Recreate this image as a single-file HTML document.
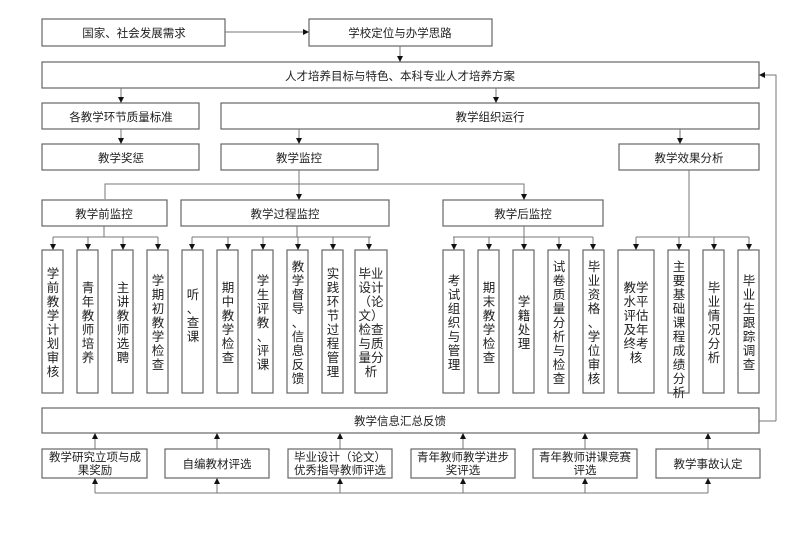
<!DOCTYPE html>
<html><head><meta charset="utf-8"><style>
html,body{margin:0;padding:0;background:#fff;}
svg{display:block}
text{font-family:"Liberation Sans","Noto Sans CJK SC",sans-serif;fill:#222;}
</style></head><body>
<svg width="799" height="559" viewBox="0 0 799 559" xmlns="http://www.w3.org/2000/svg">
<defs><marker id="a" markerWidth="6" markerHeight="6" refX="5" refY="3" orient="auto" markerUnits="userSpaceOnUse"><path d="M0,0 L6,3 L0,6z" fill="#111"/></marker></defs>
<g fill="#fff" stroke="#666" stroke-width="1.2">
<rect x="42" y="19" width="183" height="27"/>
<rect x="309" y="19" width="183" height="27"/>
<rect x="42" y="62" width="717" height="26"/>
<rect x="42" y="103" width="157" height="26"/>
<rect x="221" y="103" width="538" height="26"/>
<rect x="42" y="144" width="157" height="26"/>
<rect x="221" y="144" width="157" height="26"/>
<rect x="619" y="144" width="140" height="26"/>
<rect x="42" y="200" width="125" height="26"/>
<rect x="181" y="200" width="208" height="26"/>
<rect x="443" y="200" width="160" height="26"/>
<rect x="42" y="250" width="21" height="143"/>
<rect x="77" y="250" width="21" height="143"/>
<rect x="112" y="250" width="21" height="143"/>
<rect x="147" y="250" width="21" height="143"/>
<rect x="182" y="250" width="21" height="143"/>
<rect x="217" y="250" width="21" height="143"/>
<rect x="252" y="250" width="21" height="143"/>
<rect x="287" y="250" width="21" height="143"/>
<rect x="322" y="250" width="21" height="143"/>
<rect x="355" y="250" width="32" height="143"/>
<rect x="443" y="250" width="21" height="143"/>
<rect x="478" y="250" width="21" height="143"/>
<rect x="513" y="250" width="21" height="143"/>
<rect x="548" y="250" width="21" height="143"/>
<rect x="583" y="250" width="21" height="143"/>
<rect x="618" y="250" width="36" height="143"/>
<rect x="668" y="250" width="21" height="143"/>
<rect x="703" y="250" width="21" height="143"/>
<rect x="738" y="250" width="21" height="143"/>
<rect x="42" y="408" width="717" height="25"/>
<rect x="42" y="449" width="105" height="29"/>
<rect x="165" y="449" width="104" height="29"/>
<rect x="288" y="449" width="104" height="29"/>
<rect x="411" y="449" width="104" height="29"/>
<rect x="533" y="449" width="104" height="29"/>
<rect x="656" y="449" width="104" height="29"/>
</g>
<g stroke="#777" stroke-width="1" fill="none" marker-end="url(#a)">
<line x1="225" y1="32" x2="308" y2="32"/>
<line x1="400" y1="46" x2="400" y2="61"/>
<line x1="121" y1="88" x2="121" y2="102"/>
<line x1="496" y1="88" x2="496" y2="102"/>
<line x1="121" y1="129" x2="121" y2="143"/>
<line x1="299" y1="129" x2="299" y2="143"/>
<line x1="680" y1="129" x2="680" y2="143"/>
<line x1="299" y1="170" x2="299" y2="199"/>
<polyline points="105,199 105,184 524,184 524,199"/>
<polyline points="776,421 776,75 760,75"/>
</g>
<g stroke="#777" stroke-width="1" fill="none">
<line x1="759" y1="421" x2="776" y2="421"/>
<line x1="104" y1="226" x2="104" y2="237"/><line x1="53" y1="237" x2="158" y2="237"/>
<line x1="297" y1="226" x2="297" y2="237"/><line x1="192" y1="237" x2="371" y2="237"/>
<line x1="524" y1="226" x2="524" y2="237"/><line x1="453" y1="237" x2="593" y2="237"/>
<line x1="689" y1="170" x2="689" y2="237"/><line x1="636" y1="237" x2="749" y2="237"/>
<line x1="95" y1="493" x2="708" y2="493"/>
</g>
<g stroke="#777" stroke-width="1" marker-end="url(#a)">
<line x1="53" y1="237" x2="53" y2="249"/><line x1="88" y1="237" x2="88" y2="249"/><line x1="123" y1="237" x2="123" y2="249"/><line x1="158" y1="237" x2="158" y2="249"/>
<line x1="192" y1="237" x2="192" y2="249"/><line x1="228" y1="237" x2="228" y2="249"/><line x1="263" y1="237" x2="263" y2="249"/><line x1="298" y1="237" x2="298" y2="249"/><line x1="333" y1="237" x2="333" y2="249"/><line x1="369" y1="237" x2="369" y2="249"/>
<line x1="454" y1="237" x2="454" y2="249"/><line x1="489" y1="237" x2="489" y2="249"/><line x1="524" y1="237" x2="524" y2="249"/><line x1="559" y1="237" x2="559" y2="249"/><line x1="593" y1="237" x2="593" y2="249"/>
<line x1="636" y1="237" x2="636" y2="249"/><line x1="679" y1="237" x2="679" y2="249"/><line x1="714" y1="237" x2="714" y2="249"/><line x1="749" y1="237" x2="749" y2="249"/>
<line x1="95" y1="449" x2="95" y2="434"/><line x1="217" y1="449" x2="217" y2="434"/><line x1="340" y1="449" x2="340" y2="434"/><line x1="463" y1="449" x2="463" y2="434"/><line x1="585" y1="449" x2="585" y2="434"/><line x1="708" y1="449" x2="708" y2="434"/>
<line x1="95" y1="493" x2="95" y2="479"/><line x1="217" y1="493" x2="217" y2="479"/><line x1="340" y1="493" x2="340" y2="479"/><line x1="463" y1="493" x2="463" y2="479"/><line x1="585" y1="493" x2="585" y2="479"/><line x1="708" y1="493" x2="708" y2="479"/>
</g>
<g font-size="11.5" text-anchor="middle">
<text x="134" y="37">国家、社会发展需求</text>
<text x="400" y="37">学校定位与办学思路</text>
<text x="400" y="80">人才培养目标与特色、本科专业人才培养方案</text>
<text x="121" y="121">各教学环节质量标准</text>
<text x="490" y="121">教学组织运行</text>
<text x="121" y="162">教学奖惩</text>
<text x="299" y="162">教学监控</text>
<text x="689" y="162">教学效果分析</text>
<text x="104" y="218">教学前监控</text>
<text x="285" y="218">教学过程监控</text>
<text x="523" y="218">教学后监控</text>
<text x="400" y="425">教学信息汇总反馈</text>
<text x="95" y="461">教学研究立项与成</text><text x="95" y="474">果奖励</text>
<text x="217" y="468">自编教材评选</text>
<text x="340" y="461">毕业设计（论文）</text><text x="340" y="474">优秀指导教师评选</text>
<text x="463" y="461">青年教师教学进步</text><text x="463" y="474">奖评选</text>
<text x="585" y="461">青年教师讲课竞赛</text><text x="585" y="474">评选</text>
<text x="708" y="468">教学事故认定</text>
</g>
<g font-size="12.5" text-anchor="middle">
<text x="53" y="278"><tspan x="53">学</tspan><tspan x="53" dy="14">前</tspan><tspan x="53" dy="14">教</tspan><tspan x="53" dy="14">学</tspan><tspan x="53" dy="14">计</tspan><tspan x="53" dy="14">划</tspan><tspan x="53" dy="14">审</tspan><tspan x="53" dy="14">核</tspan></text>
<text x="88" y="292"><tspan x="88">青</tspan><tspan x="88" dy="14">年</tspan><tspan x="88" dy="14">教</tspan><tspan x="88" dy="14">师</tspan><tspan x="88" dy="14">培</tspan><tspan x="88" dy="14">养</tspan></text>
<text x="123" y="292"><tspan x="123">主</tspan><tspan x="123" dy="14">讲</tspan><tspan x="123" dy="14">教</tspan><tspan x="123" dy="14">师</tspan><tspan x="123" dy="14">选</tspan><tspan x="123" dy="14">聘</tspan></text>
<text x="158" y="285"><tspan x="158">学</tspan><tspan x="158" dy="14">期</tspan><tspan x="158" dy="14">初</tspan><tspan x="158" dy="14">教</tspan><tspan x="158" dy="14">学</tspan><tspan x="158" dy="14">检</tspan><tspan x="158" dy="14">查</tspan></text>
<text x="193" y="299"><tspan x="193">听</tspan><tspan x="193" dy="14">、</tspan><tspan x="193" dy="14">查</tspan><tspan x="193" dy="14">课</tspan></text>
<text x="228" y="292"><tspan x="228">期</tspan><tspan x="228" dy="14">中</tspan><tspan x="228" dy="14">教</tspan><tspan x="228" dy="14">学</tspan><tspan x="228" dy="14">检</tspan><tspan x="228" dy="14">查</tspan></text>
<text x="263" y="285"><tspan x="263">学</tspan><tspan x="263" dy="14">生</tspan><tspan x="263" dy="14">评</tspan><tspan x="263" dy="14">教</tspan><tspan x="263" dy="14">、</tspan><tspan x="263" dy="14">评</tspan><tspan x="263" dy="14">课</tspan></text>
<text x="298" y="271"><tspan x="298">教</tspan><tspan x="298" dy="14">学</tspan><tspan x="298" dy="14">督</tspan><tspan x="298" dy="14">导</tspan><tspan x="298" dy="14">、</tspan><tspan x="298" dy="14">信</tspan><tspan x="298" dy="14">息</tspan><tspan x="298" dy="14">反</tspan><tspan x="298" dy="14">馈</tspan></text>
<text x="333" y="278"><tspan x="333">实</tspan><tspan x="333" dy="14">践</tspan><tspan x="333" dy="14">环</tspan><tspan x="333" dy="14">节</tspan><tspan x="333" dy="14">过</tspan><tspan x="333" dy="14">程</tspan><tspan x="333" dy="14">管</tspan><tspan x="333" dy="14">理</tspan></text>
<text x="371" y="278"><tspan x="371">毕业</tspan><tspan x="371" dy="14">设计</tspan><tspan x="371" dy="14">（论</tspan><tspan x="371" dy="14">文）</tspan><tspan x="371" dy="14">检查</tspan><tspan x="371" dy="14">与质</tspan><tspan x="371" dy="14">量分</tspan><tspan x="371" dy="14">析</tspan></text>
<text x="454" y="285"><tspan x="454">考</tspan><tspan x="454" dy="14">试</tspan><tspan x="454" dy="14">组</tspan><tspan x="454" dy="14">织</tspan><tspan x="454" dy="14">与</tspan><tspan x="454" dy="14">管</tspan><tspan x="454" dy="14">理</tspan></text>
<text x="489" y="292"><tspan x="489">期</tspan><tspan x="489" dy="14">末</tspan><tspan x="489" dy="14">教</tspan><tspan x="489" dy="14">学</tspan><tspan x="489" dy="14">检</tspan><tspan x="489" dy="14">查</tspan></text>
<text x="524" y="306"><tspan x="524">学</tspan><tspan x="524" dy="14">籍</tspan><tspan x="524" dy="14">处</tspan><tspan x="524" dy="14">理</tspan></text>
<text x="559" y="271"><tspan x="559">试</tspan><tspan x="559" dy="14">卷</tspan><tspan x="559" dy="14">质</tspan><tspan x="559" dy="14">量</tspan><tspan x="559" dy="14">分</tspan><tspan x="559" dy="14">析</tspan><tspan x="559" dy="14">与</tspan><tspan x="559" dy="14">检</tspan><tspan x="559" dy="14">查</tspan></text>
<text x="594" y="271"><tspan x="594">毕</tspan><tspan x="594" dy="14">业</tspan><tspan x="594" dy="14">资</tspan><tspan x="594" dy="14">格</tspan><tspan x="594" dy="14">、</tspan><tspan x="594" dy="14">学</tspan><tspan x="594" dy="14">位</tspan><tspan x="594" dy="14">审</tspan><tspan x="594" dy="14">核</tspan></text>
<text x="636" y="292"><tspan x="636">教学</tspan><tspan x="636" dy="14">水平</tspan><tspan x="636" dy="14">评估</tspan><tspan x="636" dy="14">及年</tspan><tspan x="636" dy="14">终考</tspan><tspan x="636" dy="14">核</tspan></text>
<text x="679" y="271"><tspan x="679">主</tspan><tspan x="679" dy="14">要</tspan><tspan x="679" dy="14">基</tspan><tspan x="679" dy="14">础</tspan><tspan x="679" dy="14">课</tspan><tspan x="679" dy="14">程</tspan><tspan x="679" dy="14">成</tspan><tspan x="679" dy="14">绩</tspan><tspan x="679" dy="14">分</tspan><tspan x="679" dy="14">析</tspan></text>
<text x="714" y="292"><tspan x="714">毕</tspan><tspan x="714" dy="14">业</tspan><tspan x="714" dy="14">情</tspan><tspan x="714" dy="14">况</tspan><tspan x="714" dy="14">分</tspan><tspan x="714" dy="14">析</tspan></text>
<text x="749" y="285"><tspan x="749">毕</tspan><tspan x="749" dy="14">业</tspan><tspan x="749" dy="14">生</tspan><tspan x="749" dy="14">跟</tspan><tspan x="749" dy="14">踪</tspan><tspan x="749" dy="14">调</tspan><tspan x="749" dy="14">查</tspan></text>
</g>
</svg>
</body></html>
